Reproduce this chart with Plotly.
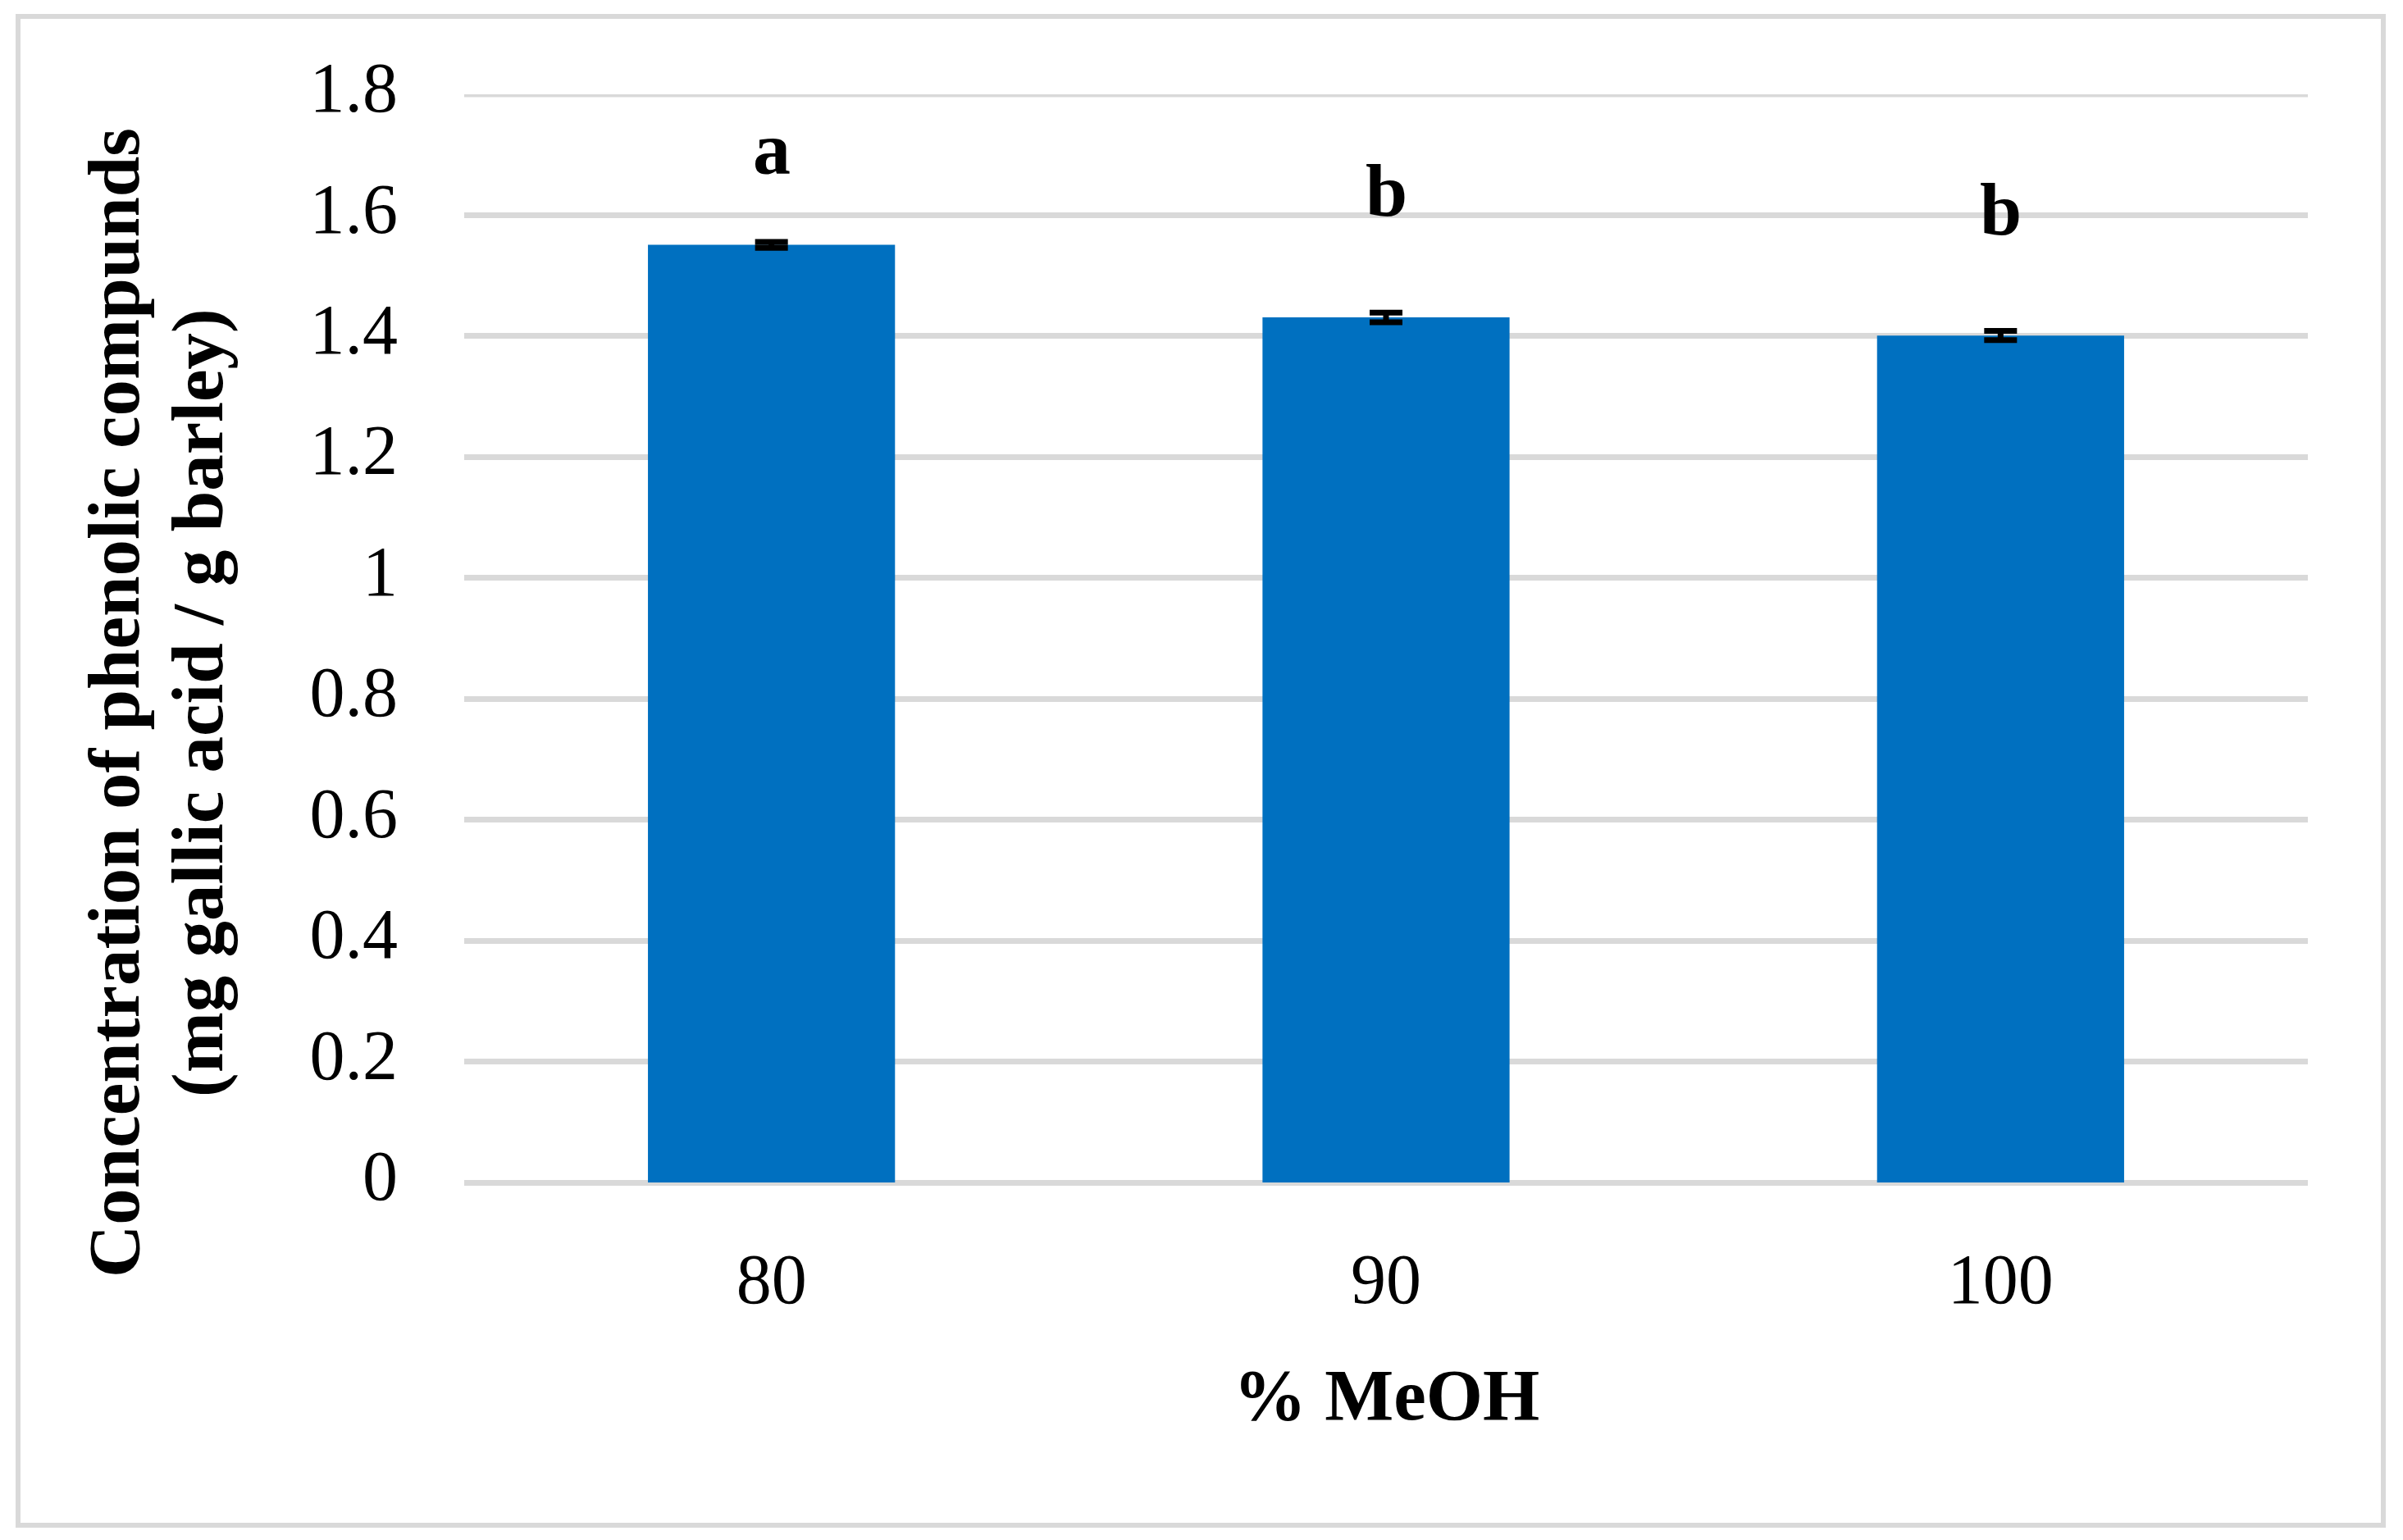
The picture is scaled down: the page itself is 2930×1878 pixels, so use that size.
import plotly.graph_objects as go

# ---- data ----
categories = ["80", "90", "100"]
values = [1.551, 1.431, 1.401]
errors = [0.005, 0.008, 0.0075]
letters = ["a", "b", "b"]
y_ticks = [0, 0.2, 0.4, 0.6, 0.8, 1, 1.2, 1.4, 1.6, 1.8]
y_ticktext = ["0", "0.2", "0.4", "0.6", "0.8", "1", "1.2", "1.4", "1.6", "1.8"]
x_title = "% MeOH"
y_title_1 = "Concentration of phenolic compunds"
y_title_2 = "(mg gallic acid / g barley)"

# ---- style ----
W, H = 2930, 1878
L, R, T, B = 566, 116, 115, 436
FONT = "Liberation Serif"
GRID = "#d9d9d9"
BAR = "#0070C0"
letter_shift = [61, 96, 96]

pw = W - L - R
ph = H - T - B

def px_to_paper_x(px):
    return (px - L) / pw

def px_to_paper_y(py):
    return (H - B - py) / ph

fig = go.Figure()
fig.add_trace(go.Bar(
    x=categories, y=values,
    marker=dict(color=BAR, line=dict(width=0)),
    width=0.402,
    error_y=dict(type="data", array=errors, visible=True,
                 color="black", thickness=7, width=20),
))

annotations = []
for i, (v, e, t, s) in enumerate(zip(values, errors, letters, letter_shift)):
    annotations.append(dict(
        x=i, y=v + e, xref="x", yref="y", text=f"<b>{t}</b>",
        showarrow=False, yanchor="bottom", xanchor="center", yshift=s,
        font=dict(family=FONT, size=92, color="black"),
    ))

annotations.append(dict(
    x=0.5, y=px_to_paper_y(1701), xref="paper", yref="paper",
    text=f"<b>{x_title}</b>", showarrow=False,
    xanchor="center", yanchor="middle",
    font=dict(family=FONT, size=89, color="black"),
))
annotations.append(dict(
    x=px_to_paper_x(139), y=px_to_paper_y(857), xref="paper", yref="paper",
    text=f"<b>{y_title_1}</b>", showarrow=False, textangle=-90,
    xanchor="center", yanchor="middle",
    font=dict(family=FONT, size=89, color="black"),
))
annotations.append(dict(
    x=px_to_paper_x(241), y=px_to_paper_y(857), xref="paper", yref="paper",
    text=f"<b>{y_title_2}</b>", showarrow=False, textangle=-90,
    xanchor="center", yanchor="middle",
    font=dict(family=FONT, size=89, color="black"),
))

# outer frame
fig.add_shape(type="rect", xref="paper", yref="paper",
              x0=px_to_paper_x(22), x1=px_to_paper_x(2906),
              y0=px_to_paper_y(1860), y1=px_to_paper_y(20),
              line=dict(color=GRID, width=6), fillcolor="rgba(0,0,0,0)",
              layer="below")
# top gridline (plotly hides grid lines at the range edge)
fig.add_shape(type="line", xref="paper", yref="y",
              x0=0, x1=1, y0=y_ticks[-1], y1=y_ticks[-1],
              line=dict(color=GRID, width=7), layer="below")

fig.update_layout(
    width=W, height=H,
    margin=dict(l=L, r=R, t=T, b=B, pad=0),
    paper_bgcolor="white", plot_bgcolor="white",
    showlegend=False,
    annotations=annotations,
    bargap=0.6,
    font=dict(family=FONT, color="black"),
)
fig.update_xaxes(
    type="category", range=[-0.5, 2.5],
    showgrid=False, showline=False, zeroline=False,
    ticks="", tickfont=dict(family=FONT, size=86, color="black"),
    ticklabelstandoff=60,
)
fig.update_yaxes(
    range=[0, 1.8], tickvals=y_ticks, ticktext=y_ticktext,
    showgrid=True, gridcolor=GRID, gridwidth=7,
    zeroline=True, zerolinecolor=GRID, zerolinewidth=7,
    showline=False, ticks="",
    tickfont=dict(family=FONT, size=86, color="black"),
    ticklabelstandoff=80, ticklabelshift=-9,
)

fig.write_html("out.html", config={"displayModeBar": False},
               post_script="document.body.style.margin='0';document.body.style.overflow='hidden';")
